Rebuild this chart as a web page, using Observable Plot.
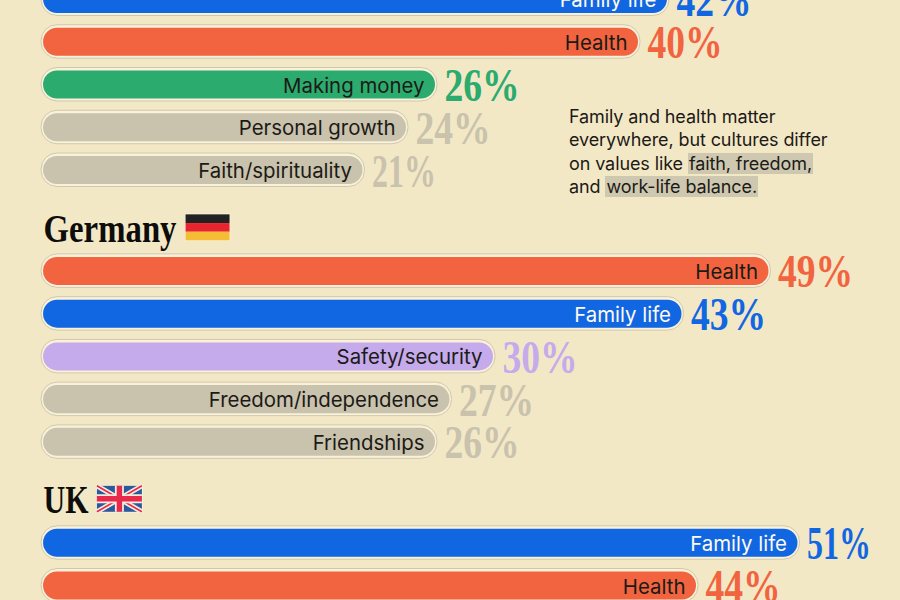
<!DOCTYPE html>
<html>
<head>
<meta charset="utf-8">
<script src="https://cdn.jsdelivr.net/npm/d3@7"></script>
<script src="https://cdn.jsdelivr.net/npm/@observablehq/plot@0.6"></script>
<style>
html,body{margin:0;padding:0;width:900px;height:600px;overflow:hidden;background:#f3e8c6}
#wrap{position:relative;width:900px;height:600px;overflow:hidden}
#note{position:absolute;left:569px;top:105px;width:290px;font:400 18px/23.4px Inter,sans-serif;color:#1c1a17;letter-spacing:-.1px}
#note mark{background:#cfc8b0;color:inherit;padding:0 1px}
</style>
</head>
<body>
<div id="wrap"><div id="note">Family and health matter<br>everywhere, but cultures differ<br>on values like <mark>faith, freedom,</mark><br>and <mark>work-life balance.</mark></div></div>
<script>
const topLabels = ["Family life","Health","Making money","Personal growth","Faith/spirituality"];
const topValues = [42,40,26,24,21];
const germanyLabels = ["Health","Family life","Safety/security","Freedom/independence","Friendships"];
const germanyValues = [49,43,30,27,26];
const ukLabels = ["Family life","Health"];
const ukValues = [51,44];
const categories = ["Family life","Health","Making money","Safety/security","Personal growth","Faith/spirituality","Freedom/independence","Friendships"];
const colours = ["#1166e2","#f1643f","#2cab6e","#c5abec","#c9c2ad","#c9c2ad","#c9c2ad","#c9c2ad"];
const headers = ["Germany","UK"];

const groups = [[topLabels,topValues,0],[germanyLabels,germanyValues,6.36],[ukLabels,ukValues,12.72]];
const rows = groups.flatMap(([ls,vs,start]) => ls.map((label,i) => ({label, value:vs[i], row:start+i})));
const headRows = [{name:headers[0],row:5.38,sx:.82},{name:headers[1],row:11.72,sx:.75}];

const flagDE = 'data:image/svg+xml,' + encodeURIComponent('<svg xmlns="http://www.w3.org/2000/svg" width="46" height="28"><rect width="46" height="28" fill="#fbf4de"/><rect x="1" y="1" width="44" height="8.7" fill="#222"/><rect x="1" y="9.7" width="44" height="8.7" fill="#e8252f"/><rect x="1" y="18.4" width="44" height="8.6" fill="#f5bd35"/></svg>');
const flagUK = 'data:image/svg+xml,' + encodeURIComponent('<svg xmlns="http://www.w3.org/2000/svg" width="47" height="28"><rect width="47" height="28" fill="#fbf4de"/><rect x="1" y="1" width="45" height="26" fill="#2a5a9c"/><path d="M1 1L46 27M46 1L1 27" stroke="#f3ecdc" stroke-width="5"/><path d="M1 1L46 27M46 1L1 27" stroke="#e9294c" stroke-width="1.6"/><path d="M23.5 1V27M1 14H46" stroke="#f3ecdc" stroke-width="9"/><path d="M23.5 1V27M1 14H46" stroke="#e9294c" stroke-width="5.4"/></svg>');
const flags = [{src:flagDE,v:10.28,row:5.33,w:46},{src:flagUK,v:4.2,row:11.68,w:47}];

const half = 0.3275;
const start = -1.03;
const chart = Plot.plot({
  width:900, height:600, margin:0,
  style:{background:"#f3e8c6"},
  x:{domain:[-4.0,58.07], range:[0,900], axis:null},
  y:{domain:[0.0234,14.059], range:[0,600], axis:null},
  color:{type:"ordinal", domain:categories, range:colours},
  marks:[
    Plot.rect(rows,{x1:start,x2:"value",y1:d=>d.row-half,y2:d=>d.row+half,insetLeft:-2,insetRight:-2,insetTop:-3,insetBottom:-2.5,rx:16,fill:"#f9f1d8",stroke:"#cfc8b0",strokeWidth:1}),
    Plot.rect(rows,{x1:start,x2:"value",y1:d=>d.row-half,y2:d=>d.row+half,rx:14,fill:"label"}),
    Plot.text(rows,{x:"value",y:"row",text:"label",textAnchor:"end",dx:-11,dy:1,fontSize:20.4,fontFamily:"Inter, sans-serif",fill:d=>d.label==="Family life"?"#fdfaf0":"#1c1a17",className:"lab"}),
    Plot.text(rows,{x:"value",y:"row",text:d=>d.value+"%",textAnchor:"start",dx:9,dy:1,fontSize:47,fontFamily:"Liberation Serif",fontWeight:700,fill:"label",className:"pct"}),
    Plot.text(headRows,{x:start,y:"row",text:"name",textAnchor:"start",fontSize:40,fontWeight:700,fontFamily:"Liberation Serif",fill:"#0e0d0b",className:"head"}),
    Plot.image(flags,{x:"v",y:"row",src:"src",width:"w",height:28,preserveAspectRatio:"none"})
  ]
});
// the display serif of the reference is tall and condensed
d3.select(chart).selectAll(".pct text").attr("transform", function(){
  const t = this.getAttribute("transform") || "";
  return t + ` scale(${this.textContent.includes("1") ? .68 : .8},1)`;
});
d3.select(chart).selectAll(".head text").attr("transform", function(){
  const t = this.getAttribute("transform") || "";
  return t + ` scale(${headRows.find(h => h.name === this.textContent).sx},1)`;
});
document.getElementById("wrap").prepend(chart);
</script>
</body>
</html>
